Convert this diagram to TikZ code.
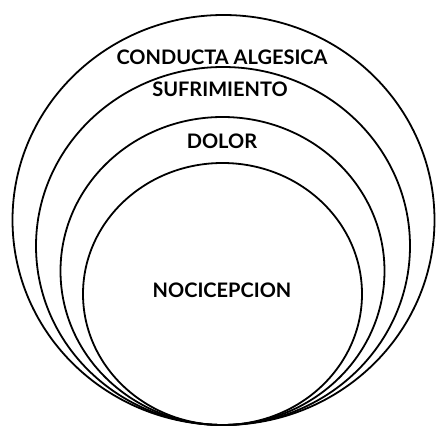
\documentclass[tikz,border=0pt]{standalone}
\usepackage{fontspec}
\setsansfont{Lato}
\begin{document}
\begin{tikzpicture}[x=1pt,y=-1pt,
  ring/.style={draw=black,line width=1.8pt},
  lab/.style={font=\sffamily\bfseries\fontsize{20}{22}\selectfont,inner sep=0pt,anchor=center}]
\useasboundingbox (0,0) rectangle (437,427);
\draw[ring] (223.5,220) ellipse [x radius=211pt, y radius=205pt];
\draw[ring] (223,246) ellipse [x radius=187pt, y radius=179pt];
\draw[ring] (222.5,271) ellipse [x radius=162pt, y radius=154pt];
\draw[ring] (222.5,294) ellipse [x radius=139.5pt, y radius=131pt];
\node[lab] (conducta) at (222,57) {CONDUCTA ALGESICA};
\node[lab] (sufrimiento) at (220,89.5) {SUFRIMIENTO};
\node[lab] (dolor) at (222,141) {DOLOR};
\node[lab] (nocicepcion) at (222,290.5) {NOCICEPCION};
\end{tikzpicture}
\end{document}
